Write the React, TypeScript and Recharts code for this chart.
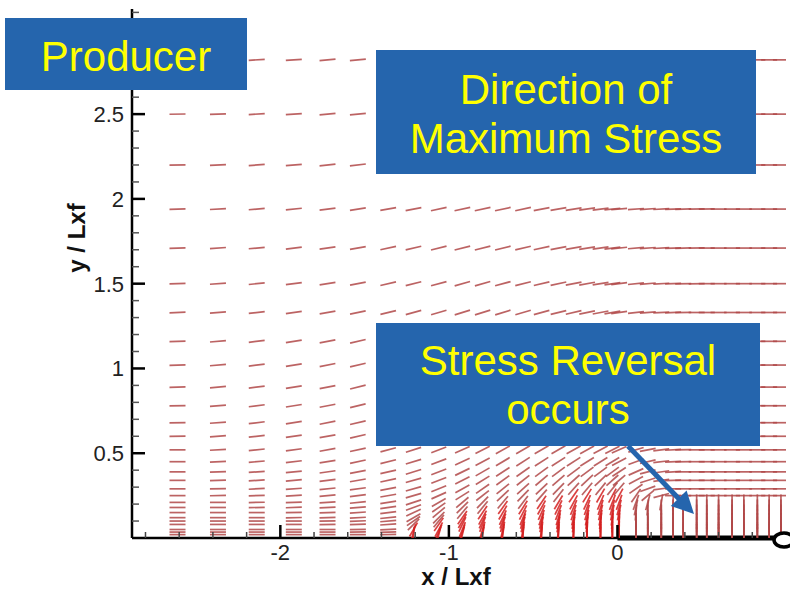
import React from "react"
import { ScatterChart, Scatter, XAxis, YAxis, ReferenceLine, ReferenceDot } from "recharts"

// grid of the vector plot (x / Lxf, y / Lxf)
const columnsX = [
  -2.61, -2.37, -2.14, -1.92, -1.72, -1.54, -1.36, -1.21, -1.06, -0.92, -0.8, -0.68, -0.56, -0.45, -0.35, -0.26,
  -0.18, -0.1, -0.03, 0.01, 0.11, 0.18, 0.26, 0.33, 0.39, 0.47, 0.53, 0.6, 0.68, 0.75, 0.83, 0.9, 0.97,
]
const rowsY = [
  2.82, 2.5, 2.2, 1.94, 1.71, 1.5, 1.33, 1.16, 1.02, 0.89, 0.78, 0.68, 0.6, 0.52, 0.45, 0.39, 0.34, 0.29, 0.25,
  0.21, 0.18, 0.15, 0.12, 0.1, 0.08, 0.05, 0.035, 0.02,
]

// direction of maximum stress, degrees from the x axis, one row per rowsY entry
const angleRows = [
  [1, 2, 3, 4, 5, 5, 6, 6, 6, 6, 6, 6, 5, 5, 5, 5, 4, 4, 4, 3, 3, 3, 2, 2, 2, 1, 1, 1, 0, 0, 0, 0, 0],
  [1, 2, 3, 4, 5, 6, 6, 7, 7, 7, 7, 7, 6, 6, 6, 5, 5, 5, 4, 4, 3, 3, 2, 2, 2, 1, 1, 1, 0, 0, 0, 0, 0],
  [1, 3, 4, 5, 6, 7, 8, 8, 8, 8, 8, 8, 8, 7, 7, 6, 6, 5, 5, 4, 4, 3, 3, 2, 2, 1, 1, 0, 0, 0, 0, 0, 0],
  [2, 3, 5, 6, 7, 9, 10, 11, 12, 12, 12, 12, 12, 11, 10, 9, 8, 7, 6, 5, 4, 4, 3, 2, 2, 1, 1, 0, 0, 0, 0, 0, 0],
  [2, 4, 5, 7, 8, 10, 12, 13, 14, 14, 14, 14, 13, 12, 11, 10, 9, 8, 7, 6, 5, 4, 3, 2, 2, 1, 0, 0, 0, 0, 0, 0, 0],
  [2, 4, 6, 7, 9, 11, 13, 14, 15, 16, 16, 15, 14, 13, 12, 11, 10, 9, 8, 7, 6, 5, 3, 2, 1, 1, 0, 0, 0, 0, 0, 0, 0],
  [2, 4, 6, 8, 10, 12, 14, 15, 16, 17, 17, 17, 16, 15, 14, 13, 12, 11, 10, 8, 6, 5, 3, 2, 1, 0, 0, 0, 0, 0, 0, 0, 0],
  [2, 5, 7, 9, 11, 13, 15, 16, 18, 19, 19, 19, 18, 17, 16, 15, 14, 13, 12, 10, 7, 5, 3, 2, 1, 0, 0, 0, 0, 0, 0, 0, 0],
  [2, 5, 7, 9, 11, 13, 15, 17, 19, 20, 21, 21, 20, 19, 18, 17, 16, 15, 14, 12, 8, 6, 4, 2, 1, 0, 0, 0, 0, 0, 0, 0, 0],
  [2, 5, 7, 9, 11, 14, 16, 18, 20, 22, 22, 22, 22, 21, 20, 19, 18, 17, 16, 14, 10, 7, 4, 2, 1, 0, 0, 0, 0, 0, 0, 0, 0],
  [1, 4, 7, 9, 11, 14, 16, 18, 21, 23, 24, 24, 24, 23, 22, 21, 20, 19, 18, 16, 11, 8, 5, 3, 1, 0, 0, 0, 0, 0, 0, 0, 0],
  [1, 4, 7, 9, 11, 13, 16, 18, 21, 23, 25, 26, 26, 25, 25, 24, 23, 22, 21, 18, 13, 9, 6, 3, 1, 0, 0, 0, 0, 0, 0, 0, 0],
  [1, 4, 6, 8, 10, 13, 15, 18, 21, 24, 26, 27, 28, 28, 27, 26, 26, 25, 24, 21, 15, 10, 6, 3, 1, 0, 0, 0, 0, 0, 0, 0, 0],
  [0, 3, 6, 8, 10, 12, 15, 18, 21, 24, 27, 29, 30, 30, 30, 29, 29, 28, 27, 24, 17, 11, 7, 3, 1, 0, 0, 0, 0, 0, 0, 0, 0],
  [0, 3, 5, 7, 9, 12, 14, 17, 21, 25, 28, 31, 33, 33, 33, 33, 32, 32, 31, 28, 20, 13, 7, 3, 1, 0, 0, 0, 0, 0, 0, 0, 0],
  [0, 2, 4, 6, 8, 11, 13, 17, 21, 26, 30, 33, 35, 36, 37, 37, 37, 37, 36, 33, 24, 15, 8, 3, 0, 0, 0, 0, 0, 0, 0, 0, 0],
  [0, 2, 4, 5, 7, 10, 12, 16, 21, 27, 32, 36, 38, 40, 41, 42, 43, 43, 42, 40, 28, 17, 8, 2, 0, 0, 0, 0, 0, 0, 0, 0, 0],
  [0, 1, 3, 4, 6, 8, 11, 16, 22, 29, 35, 39, 42, 44, 46, 48, 50, 51, 51, 50, 35, 20, 8, 0, 0, 0, 0, 0, 0, 0, 0, 0, 0],
  [0, 1, 2, 3, 5, 7, 10, 16, 24, 32, 38, 43, 46, 49, 52, 55, 58, 60, 62, 62, 55, 40, 15, 0, 0, 0, 0, 0, 0, 0, 0, 0, 0],
  [0, 0, 1, 2, 4, 6, 9, 18, 30, 40, 46, 50, 53, 56, 59, 62, 65, 67, 69, 70, 70, 75, 80, 88, 90, 90, 90, 90, 90, 90, 90, 90, 90],
  [0, 0, 1, 2, 3, 5, 8, 20, 35, 45, 51, 55, 58, 61, 64, 67, 70, 72, 74, 75, 78, 85, 90, 90, 90, 90, 90, 90, 90, 90, 90, 90, 90],
  [0, 0, 0, 1, 2, 4, 7, 25, 40, 50, 56, 60, 63, 66, 69, 72, 74, 76, 78, 78, 85, 90, 90, 90, 90, 90, 90, 90, 90, 90, 90, 90, 90],
  [0, 0, 0, 1, 2, 3, 6, 30, 45, 55, 61, 65, 68, 71, 74, 76, 78, 80, 82, 85, 90, 90, 90, 90, 90, 90, 90, 90, 90, 90, 90, 90, 90],
  [0, 0, 0, 0, 1, 2, 5, 35, 50, 60, 65, 69, 72, 75, 77, 79, 81, 83, 85, 87, 90, 90, 90, 90, 90, 90, 90, 90, 90, 90, 90, 90, 90],
  [0, 0, 0, 0, 1, 2, 4, 45, 55, 64, 69, 73, 76, 78, 80, 82, 84, 86, 87, 88, 90, 90, 90, 90, 90, 90, 90, 90, 90, 90, 90, 90, 90],
  [0, 0, 0, 0, 0, 1, 3, 60, 62, 68, 73, 77, 80, 82, 84, 86, 87, 88, 89, 89, 90, 90, 90, 90, 90, 90, 90, 90, 90, 90, 90, 90, 90],
  [0, 0, 0, 0, 0, 1, 2, 75, 68, 72, 77, 80, 83, 85, 86, 88, 89, 89, 90, 90, 90, 90, 90, 90, 90, 90, 90, 90, 90, 90, 90, 90, 90],
  [0, 0, 0, 0, 0, 0, 1, 85, 75, 76, 80, 83, 86, 87, 88, 89, 90, 90, 90, 90, 90, 90, 90, 90, 90, 90, 90, 90, 90, 90, 90, 90, 90],
]

const xTicks = [-2.8, -2.6, -2.4, -2.2, -2, -1.8, -1.6, -1.4, -1.2, -1, -0.8, -0.6, -0.4, -0.2, 0, 0.2, 0.4, 0.6, 0.8]
const xLabels = [-2, -1, 0]
const yTicks = [
  0.1, 0.2, 0.3, 0.4, 0.5, 0.6, 0.7, 0.8, 0.9, 1, 1.1, 1.2, 1.3, 1.4, 1.5, 1.6, 1.7, 1.8, 1.9, 2, 2.1, 2.2, 2.3,
  2.4, 2.5, 2.6, 2.7, 2.8, 2.9, 3, 3.1,
]
// 3 sits under the "Producer" box in the original, so it carries no label
const yLabels = [0.5, 1, 1.5, 2, 2.5]
const yMajor = [0.5, 1, 1.5, 2, 2.5, 3]

// fracture half-length along y = 0
const fractureStart = 0
const fractureEnd = 0.97
const fractureTip = 1

const vectors = rowsY.flatMap((y, r) => columnsX.map((x, c) => ({ x, y, angle: angleRows[r][c] })))

const FONT = "'Liberation Sans', Arial, sans-serif"
const BOX = "#2565ad"
const VEC_LEN = 16

function VectorGlyph(props: any) {
  const { cx, cy, payload } = props
  const rad = (payload.angle * Math.PI) / 180
  const dx = (VEC_LEN / 2) * Math.cos(rad)
  const dy = (VEC_LEN / 2) * Math.sin(rad)
  const hot = payload.angle >= 55 && payload.x < 0.05
  return (
    <line
      x1={cx - dx}
      y1={cy + dy}
      x2={cx + dx}
      y2={cy - dy}
      stroke={hot ? "#d42020" : "#b04848"}
      strokeWidth={1.7}
      strokeOpacity={0.85}
    />
  )
}

function XTick(props: any) {
  const { x, y, payload } = props
  const major = xLabels.includes(payload.value)
  return (
    <g>
      <line x1={x} x2={x} y1={y} y2={y - (major ? 13 : 6)} stroke={major ? "#000" : "#444"} strokeWidth={major ? 2.5 : 1.5} />
      {major && (
        <text x={x} y={y + 22} textAnchor="middle" fontFamily={FONT} fontSize={22} fill="#222">
          {payload.value}
        </text>
      )}
    </g>
  )
}

function YTick(props: any) {
  const { x, y, payload } = props
  const major = yMajor.includes(payload.value)
  const labelled = yLabels.includes(payload.value)
  return (
    <g>
      <line x1={x} x2={x + (major ? 13 : 7)} y1={y} y2={y} stroke={major ? "#000" : "#555"} strokeWidth={major ? 2.5 : 1.5} />
      {labelled && (
        <text x={x - 8} y={y + 8} textAnchor="end" fontFamily={FONT} fontSize={22} fill="#222">
          {payload.value}
        </text>
      )}
    </g>
  )
}

function Callout({ x, y, w, h, lines, baselines }: any) {
  return (
    <g>
      <rect x={x} y={y} width={w} height={h} fill={BOX} />
      {lines.map((t: string, i: number) => (
        <text key={t} x={x + w / 2} y={baselines[i]} textAnchor="middle" fontFamily={FONT} fontSize={42} fill="#ffff00">
          {t}
        </text>
      ))}
    </g>
  )
}

export default function App() {
  return (
    <div style={{ position: "absolute", left: 0, top: 0, width: 790, height: 592, background: "#fff" }}>
      <ScatterChart width={790} height={592} margin={{ top: 9, right: 4, bottom: 0, left: 72 }}>
        <XAxis
          type="number"
          dataKey="x"
          domain={[-2.88, 1]}
          allowDataOverflow
          ticks={xTicks}
          interval={0}
          tick={<XTick />}
          tickLine={false}
          tickSize={0}
          tickMargin={0}
          axisLine={{ stroke: "#000", strokeWidth: 2.5 }}
          height={54}
        />
        <YAxis
          type="number"
          dataKey="y"
          domain={[0, 3.12]}
          allowDataOverflow
          ticks={yTicks}
          interval={0}
          tick={<YTick />}
          tickLine={false}
          tickSize={0}
          tickMargin={0}
          axisLine={{ stroke: "#000", strokeWidth: 2.5 }}
          width={60}
        />
        <Scatter data={vectors} shape={<VectorGlyph />} isAnimationActive={false} />
        <ReferenceLine
          segment={[
            { x: fractureStart, y: 0 },
            { x: fractureEnd, y: 0 },
          ]}
          stroke="#000"
          strokeWidth={5}
          ifOverflow="visible"
        />
        <ReferenceDot
          x={fractureTip}
          y={0}
          ifOverflow="visible"
          shape={(p: any) => <ellipse cx={p.cx - 2} cy={p.cy + 2} rx={10} ry={7} fill="#fff" stroke="#000" strokeWidth={3.5} />}
        />
      </ScatterChart>
      <svg width={790} height={592} style={{ position: "absolute", left: 0, top: 0, pointerEvents: "none" }}>
        <text x={456} y={585} textAnchor="middle" fontFamily={FONT} fontWeight="bold" fontSize={24} fill="#111">
          x / Lxf
        </text>
        <text transform="translate(85,238) rotate(-90)" textAnchor="middle" fontFamily={FONT} fontWeight="bold" fontSize={24} fill="#111">
          y / Lxf
        </text>
        <Callout x={5} y={18} w={242} h={72} lines={["Producer"]} baselines={[71]} />
        <Callout x={376} y={50} w={380} h={124} lines={["Direction of", "Maximum Stress"]} baselines={[104, 153]} />
        <Callout x={376} y={323} w={384} h={123} lines={["Stress Reversal", "occurs"]} baselines={[375, 424]} />
        <line x1={628} y1={446} x2={682} y2={502} stroke={BOX} strokeWidth={5} />
        <polygon points="694,514 670.8,505.9 686.6,490.5" fill={BOX} />
      </svg>
    </div>
  )
}
